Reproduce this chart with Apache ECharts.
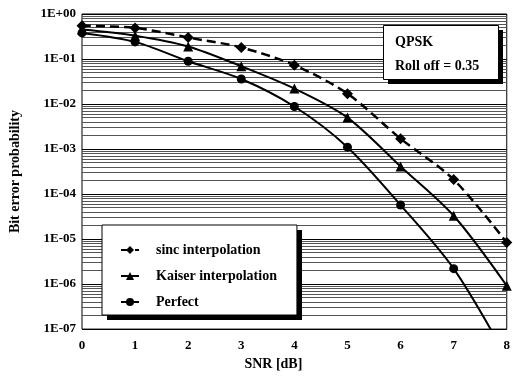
<!DOCTYPE html>
<html lang="en">
<head>
    <meta charset="UTF-8">
    <title>BER vs SNR</title>
    <script src="https://cdn.jsdelivr.net/npm/echarts@6/dist/echarts.min.js"></script>
    <style>
        html,body{margin:0;padding:0;background:#fff;}
    </style>
</head>
<body>
    <div id="chart1" style="width:513px;height:376px;"></div>
    <script>
        var myCharts=echarts.init(document.getElementById("chart1"))
        var snr=[0,1,2,3,4,5,6,7,8]
        var sincBer=[0.55,0.49,0.30,0.18,0.073,0.017,1.7e-3,2.1e-4,8.4e-6]
        var kaiserBer=[0.45,0.33,0.19,0.069,0.022,5.0e-3,4.1e-4,3.3e-5,9.2e-7]
        var perfectBer=[0.38,0.24,0.089,0.036,8.8e-3,1.1e-3,5.7e-5,2.2e-6,2.3e-8]
        var yTickLabels=["1E+00","1E-01","1E-02","1E-03","1E-04","1E-05","1E-06","1E-07"]
        var serif="'Liberation Serif','Times New Roman',serif"

        function pairs(ys){
            return snr.map((x,i)=>[x,ys[i]])
        }
        //log minor grid lines 2..9 in each decade
        var minorLines=[]
        for(var e=-7;e<0;e++){
            for(var k=2;k<=9;k++){
                minorLines.push({yAxis:k*Math.pow(10,e)})
            }
        }
        var lineBase={
            type:"line",
            smooth:0.3,
            symbolSize:9,
            color:"#000",
            animation:false
        }
        var option={
            grid:{
                left:82,right:2,top:14,bottom:42,
                show:true,
                borderColor:"#000",
                borderWidth:1
            },
            legend:{
                data:["sinc interpolation","Kaiser interpolation","Perfect"],
                orient:"vertical",
                left:102,
                top:225,
                padding:[17,20,5,18],
                itemWidth:18,
                itemHeight:10,
                itemGap:10,
                backgroundColor:"#fff",
                borderColor:"#000",
                borderWidth:1,
                z:10,
                textStyle:{
                    fontFamily:serif,
                    fontWeight:"bold",
                    fontSize:14,
                    color:"#000",
                    lineHeight:16,
                    padding:[0,0,0,12]
                }
            },
            graphic:[
                {//legend shadow
                    type:"rect",
                    left:107,top:230,z:9,
                    shape:{width:195,height:90},
                    style:{fill:"#000"}
                },
                {
                    type:"rect",
                    left:388,top:30,z:9,
                    shape:{width:115,height:54},
                    style:{fill:"#000"}
                },
                {
                    type:"rect",
                    left:383,top:25,z:10,
                    shape:{width:115,height:54},
                    style:{fill:"#fff",stroke:"#000",lineWidth:1}
                },
                {
                    type:"text",
                    left:395,top:35,z:11,
                    style:{text:"QPSK",font:"bold 14px "+serif,fill:"#000"}
                },
                {
                    type:"text",
                    left:395,top:59,z:11,
                    style:{text:"Roll off = 0.35",font:"bold 14px "+serif,fill:"#000"}
                }
            ],
            xAxis:{
                type:"value",
                min:0,max:8,interval:1,
                name:"SNR [dB]",
                nameLocation:"middle",
                nameGap:26,
                nameTextStyle:{fontFamily:serif,fontWeight:"bold",fontSize:14,color:"#000",padding:[0,42,0,0]},
                axisLine:{show:false},
                axisTick:{show:false},
                splitLine:{show:false},
                axisLabel:{fontFamily:serif,fontWeight:"bold",fontSize:13,color:"#000",margin:10}
            },
            yAxis:{
                type:"log",
                logBase:10,
                min:1e-7,max:1,
                name:"Bit error probability",
                nameLocation:"middle",
                nameGap:60,
                nameTextStyle:{fontFamily:serif,fontWeight:"bold",fontSize:14,color:"#000"},
                axisLine:{show:false},
                axisTick:{show:false},
                splitLine:{show:true,lineStyle:{color:"#000",width:1}},
                axisLabel:{
                    fontFamily:serif,fontWeight:"bold",fontSize:13,color:"#000",margin:6,
                    formatter:function(v){
                        var i=-Math.round(Math.log10(v))
                        return yTickLabels[i]
                    }
                }
            },
            series:[
                Object.assign({},lineBase,{
                    name:"sinc interpolation",
                    data:pairs(sincBer),
                    symbol:"diamond",
                    symbolSize:11,
                    lineStyle:{color:"#000",width:2.5,type:[9,5]},
                    markLine:{
                        silent:true,
                        symbol:"none",
                        precision:12,
                        label:{show:false},
                        animation:false,
                        lineStyle:{color:"#555",width:1,type:"solid"},
                        data:minorLines,
                        z:1
                    }
                }),
                Object.assign({},lineBase,{
                    name:"Kaiser interpolation",
                    data:pairs(kaiserBer),
                    symbol:"triangle",
                    symbolSize:10,
                    lineStyle:{color:"#000",width:2}
                }),
                Object.assign({},lineBase,{
                    name:"Perfect",
                    data:pairs(perfectBer),
                    symbol:"circle",
                    symbolSize:9,
                    lineStyle:{color:"#000",width:2}
                })
            ]
        }
        myCharts.setOption(option)
    </script>
</body>
</html>
